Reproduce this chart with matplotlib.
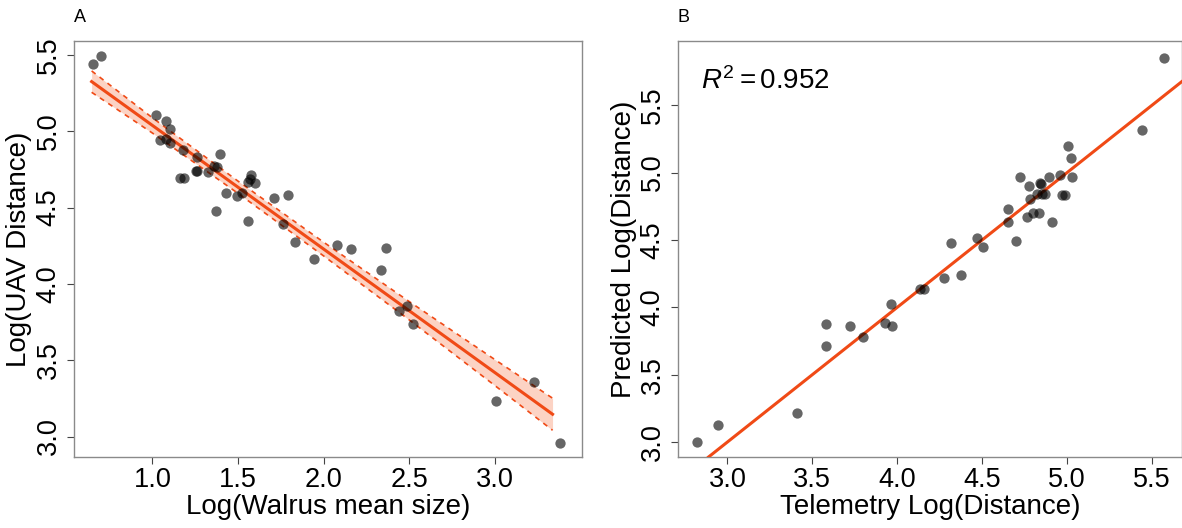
import matplotlib
matplotlib.use("Agg")
import matplotlib.pyplot as plt

plt.rcParams["font.family"] = ["Liberation Sans", "DejaVu Sans"]
plt.rcParams["mathtext.fontset"] = "custom"
plt.rcParams["mathtext.rm"] = "Liberation Sans"
plt.rcParams["mathtext.it"] = "Liberation Sans:italic"

# Panel A: walrus group size vs UAV approach distance
walrus_size = [0.651, 0.702, 1.020, 1.082, 1.104, 1.045, 1.080, 1.100, 1.181, 1.260,
               1.392, 1.377, 1.360, 1.327, 1.256, 1.258, 1.162, 1.185, 1.431, 1.494,
               1.523, 1.373, 1.577, 1.561, 1.600, 1.570, 1.561, 1.708, 1.792, 1.763,
               1.834, 1.946, 2.078, 2.160, 2.365, 2.333, 2.441, 2.484, 2.523, 3.006,
               3.228, 3.380]
uav_dist = [5.439, 5.493, 5.107, 5.067, 5.013, 4.943, 4.948, 4.925, 4.877, 4.830,
            4.849, 4.768, 4.775, 4.735, 4.740, 4.742, 4.692, 4.692, 4.598, 4.576,
            4.594, 4.480, 4.714, 4.670, 4.663, 4.685, 4.414, 4.565, 4.581, 4.391,
            4.277, 4.165, 4.255, 4.229, 4.237, 4.089, 3.822, 3.857, 3.737, 3.233,
            3.359, 2.959]

# fitted line and confidence band
fit_x = [0.645, 1.0, 1.5, 2.0, 2.5, 3.0, 3.337]
fit_y = [5.325, 5.038, 4.633, 4.228, 3.824, 3.419, 3.146]
band_hi = [5.395, 5.088, 4.673, 4.273, 3.884, 3.504, 3.251]
band_lo = [5.255, 4.988, 4.593, 4.183, 3.764, 3.334, 3.041]

# Panel B: telemetry vs predicted distance
telemetry = [2.821, 2.947, 3.407, 3.583, 3.579, 3.721, 3.801, 3.929, 3.970, 3.966,
             4.133, 4.157, 4.276, 4.314, 4.377, 4.471, 4.506, 4.650, 4.654, 4.699,
             4.762, 4.801, 4.835, 4.909, 4.781, 4.821, 4.870, 4.850, 4.968, 4.988,
             4.774, 4.840, 4.845, 4.722, 4.893, 4.958, 5.027, 5.021, 5.007, 5.441,
             5.571]
predicted = [2.997, 3.126, 3.214, 3.875, 3.714, 3.862, 3.777, 3.885, 3.862, 4.028,
             4.134, 4.134, 4.220, 4.476, 4.237, 4.516, 4.447, 4.632, 4.731, 4.496,
             4.669, 4.698, 4.698, 4.637, 4.805, 4.842, 4.842, 4.845, 4.837, 4.837,
             4.898, 4.920, 4.915, 4.965, 4.965, 4.985, 4.965, 5.110, 5.197, 5.320,
             5.852]
r_squared = 0.952

ticks_a_x = [1.0, 1.5, 2.0, 2.5, 3.0]
ticks_a_y = [3.0, 3.5, 4.0, 4.5, 5.0, 5.5]
ticks_b_x = [3.0, 3.5, 4.0, 4.5, 5.0, 5.5]
ticks_b_y = [3.0, 3.5, 4.0, 4.5, 5.0, 5.5]

ORANGE = "#F04A16"
BAND = "#FCD3C4"
BOX = "#8a8a8a"


def style_axes(ax, xticks, yticks):
    for s in ax.spines.values():
        s.set_color(BOX)
        s.set_linewidth(1.0)
    ax.set_xticks(xticks)
    ax.set_yticks(yticks)
    ax.set_xticklabels([f"{t:.1f}" for t in xticks])
    ax.set_yticklabels([f"{t:.1f}" for t in yticks], rotation=90, va="center")
    ax.tick_params(direction="out", length=5, width=0.8, color="#444444",
                   labelsize=19.5, pad=2)
    ax.tick_params(axis="y", pad=4)


fig = plt.figure(figsize=(11.82, 5.28), dpi=100)
ax1 = fig.add_axes([0.0626, 0.1345, 0.4298, 0.787])
ax2 = fig.add_axes([0.5736, 0.1345, 0.4264, 0.787])

# ---- panel A
ax1.fill_between(fit_x, band_lo, band_hi, color=BAND, lw=0, zorder=1)
ax1.plot(fit_x, band_hi, color=ORANGE, lw=1.2, ls=(0, (3, 3)), zorder=2)
ax1.plot(fit_x, band_lo, color=ORANGE, lw=1.2, ls=(0, (3, 3)), zorder=2)
ax1.plot(fit_x, fit_y, color=ORANGE, lw=2.2, zorder=3)
ax1.scatter(walrus_size, uav_dist, s=55, color="black", alpha=0.6, lw=0, zorder=4)
ax1.set_xlim(0.542, 3.509)
ax1.set_ylim(2.866, 5.588)
style_axes(ax1, ticks_a_x, ticks_a_y)
ax1.set_xlabel("Log(Walrus mean size)", fontsize=20)
ax1.set_ylabel("Log(UAV Distance)", fontsize=20)
ax1.yaxis.set_label_coords(-0.082, 0.5)
ax1.xaxis.set_label_coords(0.5, -0.09)
ax1.text(0.0, 1.047, "A", transform=ax1.transAxes, fontsize=13, va="baseline")

# ---- panel B
ax2.axline((0, 0), slope=1, color=ORANGE, lw=2.2, zorder=3)
ax2.scatter(telemetry, predicted, s=55, color="black", alpha=0.6, lw=0, zorder=4)
ax2.set_xlim(2.709, 5.677)
ax2.set_ylim(2.889, 5.974)
style_axes(ax2, ticks_b_x, ticks_b_y)
ax2.set_xlabel("Telemetry Log(Distance)", fontsize=20)
ax2.set_ylabel("Predicted Log(Distance)", fontsize=20)
ax2.yaxis.set_label_coords(-0.082, 0.5)
ax2.xaxis.set_label_coords(0.5, -0.09)
ax2.text(0.0, 1.047, "B", transform=ax2.transAxes, fontsize=13, va="baseline")
ax2.text(0.045, 0.905, rf"$R^2 = {r_squared}$", transform=ax2.transAxes,
         fontsize=20, va="center")

fig.savefig("out.png", dpi=100)
